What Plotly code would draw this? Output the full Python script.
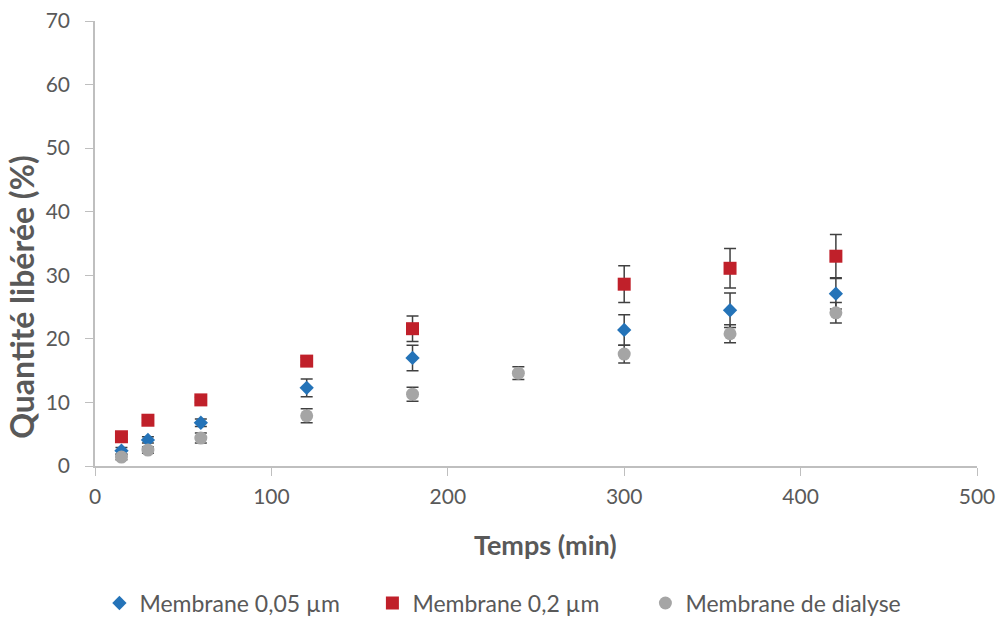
import plotly.graph_objects as go

t_a = [15, 30, 60, 120, 180, 300, 360, 420]
m005 = [2.4, 4.1, 6.8, 12.3, 17.0, 21.4, 24.5, 27.1]
m005_err = [0.5, 0.5, 0.6, 1.4, 2.0, 2.4, 2.7, 2.4]
m02 = [4.6, 7.2, 10.4, 16.5, 21.6, 28.6, 31.1, 33.0]
m02_err = [0.4, 0.4, 0.4, 0.6, 2.0, 2.9, 3.1, 3.4]
t_d = [15, 30, 60, 120, 180, 240, 300, 360, 420]
dial = [1.4, 2.5, 4.4, 7.9, 11.3, 14.6, 17.6, 20.8, 24.1]
dial_err = [0.4, 0.5, 0.8, 1.1, 1.1, 1.0, 1.4, 1.4, 1.6]
x_title = "Temps (min)"
y_title = "Quantité libérée (%)"

ec = "#404040"
fig = go.Figure()
def add(x, y, e, name, color, symbol, size):
    fig.add_trace(go.Scatter(
        x=x, y=y, mode="markers", name=name,
        marker=dict(color=color, symbol=symbol, size=size, line=dict(width=0)),
        error_y=dict(type="data", array=e, visible=True, color=ec, thickness=1.5, width=6),
    ))

add(t_a, m005, m005_err, "Membrane 0,05 µm", "#2473b8", "diamond", 11)
add(t_a, m02, m02_err, "Membrane 0,2 µm", "#c0202a", "square", 13)
add(t_d, dial, dial_err, "Membrane de dialyse", "#a5a5a5", "circle", 13)

font_f = "Lato, Open Sans, sans-serif"
fig.update_layout(
    width=1001, height=618,
    margin=dict(l=95, r=24, t=21, b=152, autoexpand=False),
    plot_bgcolor="white", paper_bgcolor="white",
    font=dict(family=font_f, color="#595959", size=21),
    legend=dict(orientation="h", x=0.005, xanchor="left", y=-0.308, yanchor="middle",
                font=dict(size=23, color="#595959"), itemwidth=30,
                entrywidth=228, entrywidthmode="pixels"),
    showlegend=True,
    annotations=[
        dict(text="<b>" + x_title + "</b>", xref="paper", yref="paper",
             x=0.511, y=-0.1775, xanchor="center", yanchor="middle", showarrow=False,
             font=dict(size=27, color="#595959")),
        dict(text="<b>" + y_title + "</b>", xref="paper", yref="paper", textangle=-90,
             x=-0.0828, y=0.38, xanchor="center", yanchor="middle", showarrow=False,
             font=dict(size=32, color="#595959")),
    ],
)
fig.update_xaxes(range=[0, 500], dtick=100, showline=True, linecolor="#bfbfbf", linewidth=1.5,
                 ticks="outside", ticklen=8, tickcolor="#bfbfbf", showgrid=False, zeroline=False,
                 automargin=False, tickfont=dict(size=21), ticklabelstandoff=3,
                 ticklabeloverflow="allow")
fig.update_yaxes(range=[0, 70], dtick=10, showline=True, linecolor="#bfbfbf", linewidth=1.5,
                 ticks="outside", ticklen=8, tickcolor="#bfbfbf", showgrid=False, zeroline=False,
                 automargin=False, tickfont=dict(size=21), ticklabelstandoff=11,
                 ticklabeloverflow="allow")

fig.write_html("out.html", config={"displayModeBar": False},
               post_script="document.body.style.margin='0px';")
